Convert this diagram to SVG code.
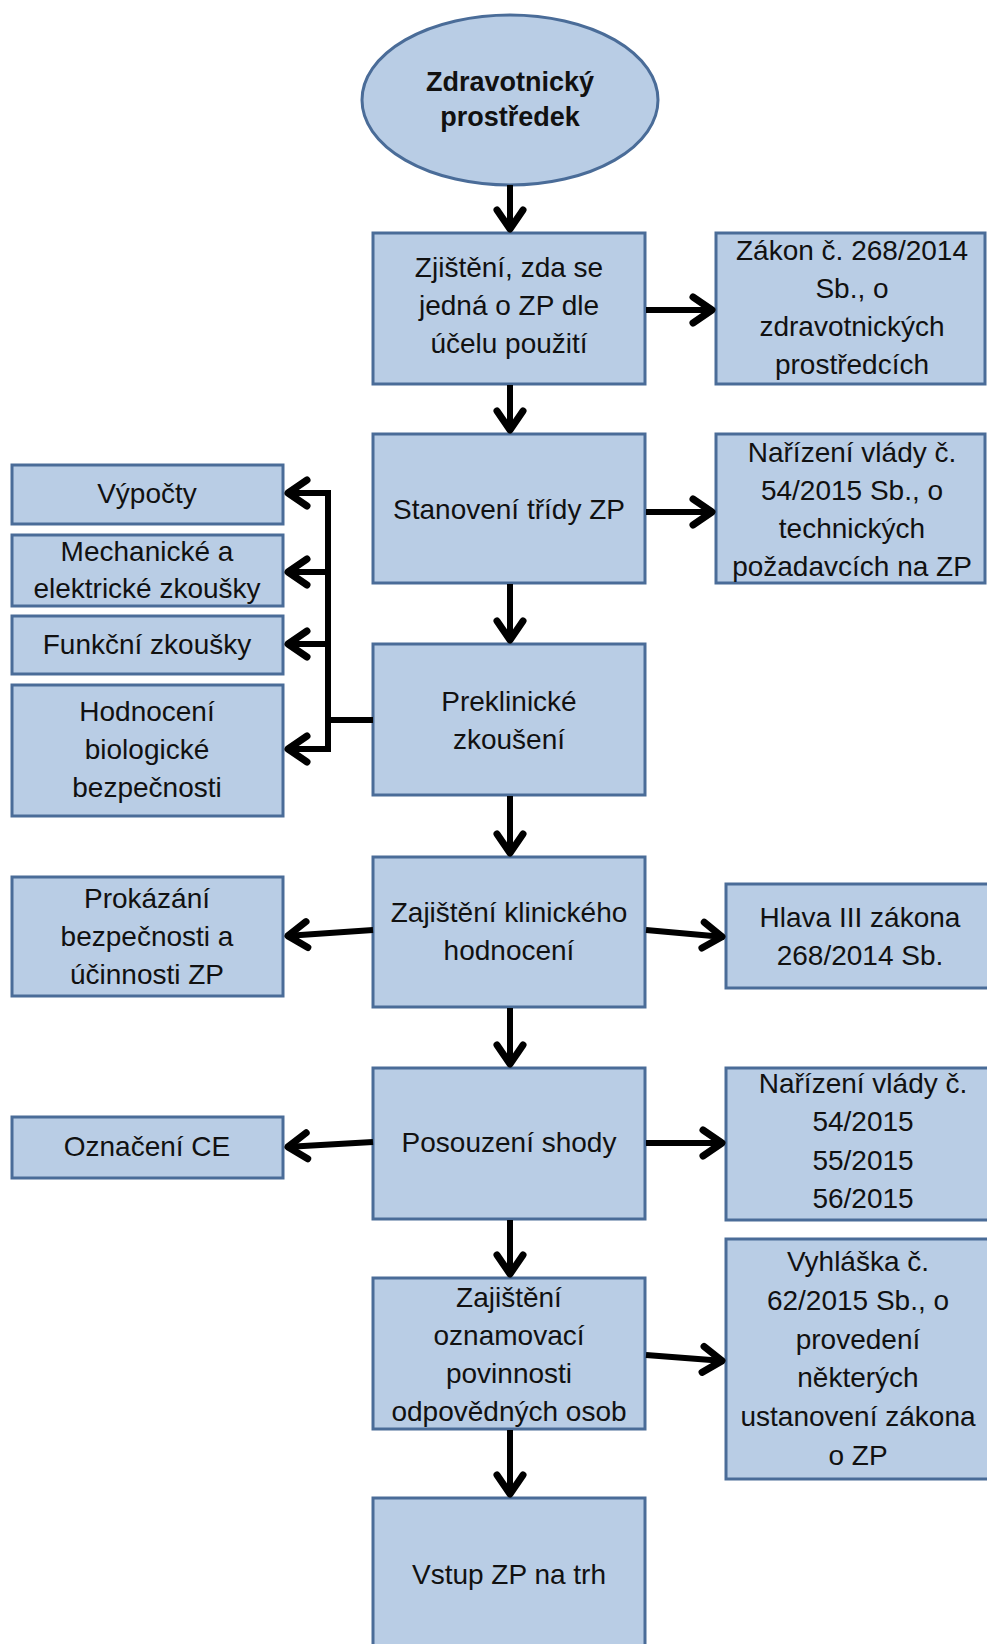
<svg xmlns="http://www.w3.org/2000/svg" width="987" height="1644" viewBox="0 0 987 1644">
  <style>
    .box { fill: #B9CDE5; stroke: #4A6C98; stroke-width: 3; }
    .lbl { font-family: "Liberation Sans", Arial, sans-serif; font-size: 28px; fill: #111; text-anchor: middle; }
    .ttl { font-family: "Liberation Sans", Arial, sans-serif; font-size: 27px; font-weight: bold; fill: #111; text-anchor: middle; }
    .wire { stroke: #000; stroke-width: 6; fill: none; }
    .arr { stroke: #000; stroke-width: 6; fill: none; marker-end: url(#chev); }
  </style>
  <defs>
    <marker id="chev" markerUnits="userSpaceOnUse" viewBox="-30 -20 34 40" markerWidth="34" markerHeight="40" refX="0" refY="0" orient="auto">
      <path d="M-21,-13 L-2,0 L-21,13" fill="none" stroke="#000" stroke-width="7" stroke-linecap="round" stroke-linejoin="round"/>
    </marker>
  </defs>
  <rect width="987" height="1644" fill="#fff"/>

  <g id="start">
    <ellipse class="box" cx="510" cy="100" rx="148" ry="85"/>
    <text class="ttl" x="510" y="91">Zdravotnický</text>
    <text class="ttl" x="510" y="126">prostředek</text>
  </g>

  <g id="zjisteni">
    <rect class="box" x="373" y="233" width="272" height="151"/>
    <text class="lbl" x="509" y="277">Zjištění, zda se</text>
    <text class="lbl" x="509" y="315">jedná o ZP dle</text>
    <text class="lbl" x="509" y="353">účelu použití</text>
  </g>

  <g id="zakon">
    <rect class="box" x="716" y="233" width="269" height="151"/>
    <text class="lbl" x="852" y="260">Zákon č. 268/2014</text>
    <text class="lbl" x="852" y="298">Sb., o</text>
    <text class="lbl" x="852" y="336">zdravotnických</text>
    <text class="lbl" x="852" y="374">prostředcích</text>
  </g>

  <g id="trida">
    <rect class="box" x="373" y="434" width="272" height="149"/>
    <text class="lbl" x="509" y="519">Stanovení třídy ZP</text>
  </g>

  <g id="narizeni1">
    <rect class="box" x="716" y="434" width="269" height="149"/>
    <text class="lbl" x="852" y="462">Nařízení vlády č.</text>
    <text class="lbl" x="852" y="500">54/2015 Sb., o</text>
    <text class="lbl" x="852" y="538">technických</text>
    <text class="lbl" x="852" y="576">požadavcích na ZP</text>
  </g>

  <g id="preklinicke">
    <rect class="box" x="373" y="644" width="272" height="151"/>
    <text class="lbl" x="509" y="711">Preklinické</text>
    <text class="lbl" x="509" y="749">zkoušení</text>
  </g>

  <g id="vypocty">
    <rect class="box" x="12" y="465" width="271" height="59"/>
    <text class="lbl" x="147" y="503">Výpočty</text>
  </g>

  <g id="mechanicke">
    <rect class="box" x="12" y="535" width="271" height="71"/>
    <text class="lbl" x="147" y="561">Mechanické a</text>
    <text class="lbl" x="147" y="598">elektrické zkoušky</text>
  </g>

  <g id="funkcni">
    <rect class="box" x="12" y="616" width="271" height="58"/>
    <text class="lbl" x="147" y="654">Funkční zkoušky</text>
  </g>

  <g id="biologicke">
    <rect class="box" x="12" y="685" width="271" height="131"/>
    <text class="lbl" x="147" y="721">Hodnocení</text>
    <text class="lbl" x="147" y="759">biologické</text>
    <text class="lbl" x="147" y="797">bezpečnosti</text>
  </g>

  <g id="klinicke">
    <rect class="box" x="373" y="857" width="272" height="150"/>
    <text class="lbl" x="509" y="922">Zajištění klinického</text>
    <text class="lbl" x="509" y="960">hodnocení</text>
  </g>

  <g id="prokazani">
    <rect class="box" x="12" y="877" width="271" height="119"/>
    <text class="lbl" x="147" y="908">Prokázání</text>
    <text class="lbl" x="147" y="946">bezpečnosti a</text>
    <text class="lbl" x="147" y="984">účinnosti ZP</text>
  </g>

  <g id="hlava">
    <rect class="box" x="726" y="884" width="272" height="104"/>
    <text class="lbl" x="860" y="927">Hlava III zákona</text>
    <text class="lbl" x="860" y="965">268/2014 Sb.</text>
  </g>

  <g id="shoda">
    <rect class="box" x="373" y="1068" width="272" height="151"/>
    <text class="lbl" x="509" y="1152">Posouzení shody</text>
  </g>

  <g id="ce">
    <rect class="box" x="12" y="1117" width="271" height="61"/>
    <text class="lbl" x="147" y="1156">Označení CE</text>
  </g>

  <g id="narizeni2">
    <rect class="box" x="726" y="1068" width="272" height="152"/>
    <text class="lbl" x="863" y="1093">Nařízení vlády č.</text>
    <text class="lbl" x="863" y="1131">54/2015</text>
    <text class="lbl" x="863" y="1170">55/2015</text>
    <text class="lbl" x="863" y="1208">56/2015</text>
  </g>

  <g id="oznamovaci">
    <rect class="box" x="373" y="1278" width="272" height="151"/>
    <text class="lbl" x="509" y="1307">Zajištění</text>
    <text class="lbl" x="509" y="1345">oznamovací</text>
    <text class="lbl" x="509" y="1383">povinnosti</text>
    <text class="lbl" x="509" y="1421">odpovědných osob</text>
  </g>

  <g id="vyhlaska">
    <rect class="box" x="726" y="1239" width="272" height="240"/>
    <text class="lbl" x="858" y="1271">Vyhláška č.</text>
    <text class="lbl" x="858" y="1310">62/2015 Sb., o</text>
    <text class="lbl" x="858" y="1349">provedení</text>
    <text class="lbl" x="858" y="1387">některých</text>
    <text class="lbl" x="858" y="1426">ustanovení zákona</text>
    <text class="lbl" x="858" y="1465">o ZP</text>
  </g>

  <g id="trh">
    <rect class="box" x="373" y="1498" width="272" height="160"/>
    <text class="lbl" x="509" y="1584">Vstup ZP na trh</text>
  </g>

  <g id="connectors">
    <line class="arr" x1="510" y1="185" x2="510" y2="231"/>
    <line class="arr" x1="646" y1="310" x2="714" y2="310"/>
    <line class="arr" x1="510" y1="385" x2="510" y2="432"/>
    <line class="arr" x1="646" y1="512" x2="714" y2="512"/>
    <line class="arr" x1="510" y1="584" x2="510" y2="642"/>
    <path class="wire" d="M373,720 H328 M328,490 V752"/>
    <line class="arr" x1="331" y1="493" x2="286" y2="493"/>
    <line class="arr" x1="331" y1="572" x2="286" y2="572"/>
    <line class="arr" x1="331" y1="644" x2="286" y2="644"/>
    <line class="arr" x1="331" y1="749" x2="286" y2="749"/>
    <line class="arr" x1="510" y1="796" x2="510" y2="855"/>
    <line class="arr" x1="373" y1="930" x2="286" y2="936"/>
    <line class="arr" x1="646" y1="930" x2="724" y2="937"/>
    <line class="arr" x1="510" y1="1008" x2="510" y2="1066"/>
    <line class="arr" x1="373" y1="1142" x2="286" y2="1147"/>
    <line class="arr" x1="646" y1="1143" x2="724" y2="1143"/>
    <line class="arr" x1="510" y1="1220" x2="510" y2="1276"/>
    <line class="arr" x1="646" y1="1355" x2="724" y2="1361"/>
    <line class="arr" x1="510" y1="1430" x2="510" y2="1496"/>
  </g>
</svg>
